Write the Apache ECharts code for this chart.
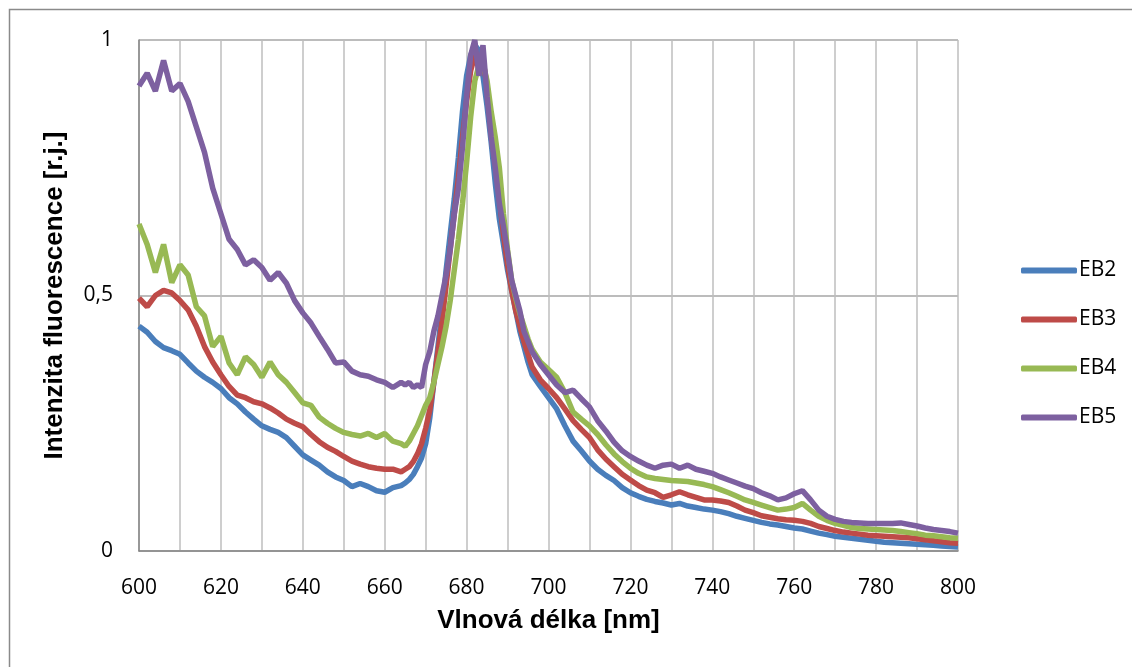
<!DOCTYPE html>
<html>
<head>
<meta charset="UTF-8">
<title>Intenzita fluorescence</title>
<script src="https://cdn.jsdelivr.net/npm/echarts@6/dist/echarts.min.js"></script>
</head>
<body style="margin:0">
<div id="main" style="width:1132px;height:667px;"></div>
<script type="text/javascript">
// vlnove delky [nm]
var nm = [600,602,604,606,608,610,612,614,616,618,620,622,624,626,628,630,632,634,636,638,640,642,644,646,648,650,652,654,656,658,660,662,664,
  665,666,667,668,669,670,671,672,673,674,675,676,677,678,679,680,681,682,683,684,685,686,687,688,689,690,691,692,693,694,695,696,
  698,700,702,704,706,708,710,712,714,716,718,720,722,724,726,728,730,732,734,736,738,740,742,744,746,748,750,752,754,756,758,760,
  762,764,766,768,770,772,774,776,778,780,782,784,786,788,790,792,794,796,798,800];

var eb2 = [0.440,0.428,0.410,0.398,0.392,0.385,0.368,0.352,0.340,0.330,0.318,0.300,0.288,0.272,0.258,0.245,0.238,0.232,0.222,0.205,0.188,0.178,0.168,0.155,0.145,0.138,0.126,0.132,0.126,0.118,0.115,0.124,0.128,
  0.133,0.140,0.150,0.165,0.182,0.210,0.260,0.330,0.400,0.470,0.550,0.620,0.690,0.770,0.860,0.930,0.970,0.990,0.980,0.930,0.870,0.800,0.720,0.650,0.600,0.550,0.510,0.470,0.430,0.400,0.370,0.345,
  0.322,0.300,0.278,0.245,0.215,0.196,0.176,0.160,0.148,0.138,0.124,0.114,0.107,0.101,0.097,0.094,0.090,0.093,0.088,0.085,0.082,0.080,0.077,0.073,0.068,0.064,0.060,0.056,0.053,0.051,0.048,0.045,
  0.043,0.039,0.035,0.032,0.029,0.027,0.025,0.023,0.021,0.019,0.017,0.016,0.015,0.014,0.013,0.012,0.011,0.010,0.009,0.008];

var eb3 = [0.495,0.478,0.500,0.510,0.505,0.490,0.472,0.440,0.400,0.370,0.345,0.322,0.305,0.300,0.292,0.288,0.280,0.270,0.258,0.250,0.243,0.228,0.214,0.203,0.195,0.185,0.176,0.170,0.165,0.162,0.160,0.160,0.155,
  0.160,0.165,0.175,0.190,0.210,0.240,0.275,0.330,0.390,0.450,0.520,0.590,0.660,0.730,0.810,0.880,0.940,0.970,0.960,0.960,0.910,0.840,0.770,0.690,0.620,0.560,0.510,0.470,0.440,0.410,0.385,0.360,
  0.335,0.318,0.300,0.278,0.255,0.238,0.222,0.198,0.180,0.165,0.150,0.139,0.128,0.119,0.114,0.105,0.110,0.116,0.110,0.105,0.100,0.100,0.098,0.095,0.088,0.080,0.075,0.069,0.066,0.063,0.061,0.060,
  0.058,0.054,0.048,0.044,0.040,0.037,0.035,0.033,0.031,0.030,0.029,0.028,0.027,0.026,0.024,0.022,0.020,0.018,0.016,0.015];

var eb4 = [0.640,0.600,0.545,0.600,0.525,0.560,0.540,0.478,0.460,0.400,0.420,0.368,0.345,0.380,0.365,0.340,0.370,0.345,0.330,0.310,0.290,0.285,0.262,0.250,0.240,0.232,0.228,0.225,0.230,0.222,0.230,0.215,0.210,
  0.205,0.215,0.230,0.245,0.265,0.285,0.300,0.330,0.365,0.400,0.440,0.490,0.550,0.610,0.680,0.760,0.850,0.920,0.950,0.955,0.920,0.860,0.810,0.750,0.660,0.590,0.530,0.495,0.465,0.440,0.415,0.395,
  0.370,0.355,0.340,0.310,0.272,0.258,0.245,0.228,0.208,0.190,0.175,0.162,0.152,0.145,0.142,0.140,0.138,0.137,0.136,0.133,0.130,0.126,0.120,0.114,0.107,0.100,0.095,0.090,0.085,0.080,0.082,0.085,
  0.093,0.080,0.068,0.060,0.054,0.050,0.046,0.044,0.043,0.042,0.041,0.040,0.038,0.036,0.034,0.031,0.030,0.028,0.026,0.025];

var eb5 = [0.910,0.935,0.900,0.960,0.900,0.915,0.880,0.830,0.780,0.710,0.660,0.610,0.590,0.560,0.570,0.555,0.530,0.545,0.524,0.490,0.466,0.446,0.420,0.395,0.368,0.370,0.352,0.345,0.342,0.335,0.330,0.320,0.330,
  0.325,0.330,0.320,0.325,0.320,0.365,0.390,0.430,0.460,0.500,0.540,0.590,0.660,0.710,0.790,0.890,0.970,1.000,0.930,0.990,0.890,0.810,0.750,0.680,0.635,0.585,0.530,0.500,0.470,0.430,0.410,0.390,
  0.365,0.345,0.325,0.310,0.315,0.298,0.282,0.255,0.235,0.213,0.196,0.185,0.176,0.168,0.162,0.168,0.170,0.162,0.168,0.160,0.156,0.152,0.145,0.139,0.133,0.127,0.122,0.114,0.108,0.100,0.104,0.112,
  0.118,0.100,0.080,0.068,0.062,0.058,0.056,0.055,0.054,0.054,0.054,0.054,0.055,0.052,0.049,0.045,0.042,0.040,0.038,0.035];

var names = ['EB2', 'EB3', 'EB4', 'EB5'];
var colors = ['#4A7EBB', '#BE4B48', '#98B954', '#7D60A0'];
var values = [eb2, eb3, eb4, eb5];

function pairs(v) {
  var out = [];
  for (var i = 0; i < nm.length; i++) out.push([nm[i], v[i]]);
  return out;
}

var font = '"Open Sans", Lato, sans-serif';
var titleFont = '"Liberation Sans", Arial, sans-serif';
var series = [];
for (var s = 0; s < names.length; s++) {
  series.push({
    name: names[s],
    type: 'line',
    data: pairs(values[s]),
    symbol: 'none',
    lineStyle: { width: 5.5, color: colors[s] },
    itemStyle: { color: colors[s] },
    animation: false
  });
}

var myChart = echarts.init(document.getElementById('main'));
myChart.setOption({
  backgroundColor: '#fff',
  animation: false,
  graphic: [{
    type: 'rect',
    shape: { x: 9.5, y: 9.5, width: 1200, height: 800 },
    style: { fill: 'none', stroke: '#8a8a8a', lineWidth: 1.5 },
    silent: true
  }],
  grid: { left: 139, right: 174, top: 40, bottom: 116 },
  legend: {
    orient: 'vertical',
    left: 1016,
    top: 255,
    itemGap: 28,
    itemWidth: 56,
    itemHeight: 6,
    icon: 'roundRect',
    textStyle: { fontFamily: font, fontSize: 21, color: '#000', padding: [0, 0, 0, -3] },
    data: names
  },
  xAxis: {
    type: 'value',
    min: 600,
    max: 800,
    interval: 10,
    name: 'Vlnová délka [nm]',
    nameLocation: 'middle',
    nameGap: 57,
    nameTextStyle: { fontFamily: titleFont, fontSize: 26, fontWeight: 'bold', color: '#000' },
    axisLine: { lineStyle: { color: '#868686', width: 1.5 } },
    axisTick: { show: false },
    axisLabel: {
      margin: 27,
      fontFamily: font, fontSize: 21, color: '#000',
      formatter: function (v) { return v % 20 === 0 ? String(v) : ''; }
    },
    splitLine: { show: true, lineStyle: { color: '#BEBEBE', width: 1.5 } }
  },
  yAxis: {
    type: 'value',
    min: 0,
    max: 1,
    interval: 0.5,
    name: 'Intenzita fluorescence [r.j.]',
    nameLocation: 'middle',
    nameGap: 71,
    nameTextStyle: { fontFamily: titleFont, fontSize: 26, fontWeight: 'bold', color: '#000' },
    axisLine: { show: true, lineStyle: { color: '#868686', width: 1.5 } },
    axisTick: { show: false },
    axisLabel: {
      margin: 26,
      fontFamily: font, fontSize: 21, color: '#000',
      formatter: function (v) { return String(v).replace('.', ','); }
    },
    splitLine: { show: true, lineStyle: { color: '#A6A6A6', width: 1.5 } }
  },
  series: series
});
</script>
</body>
</html>
